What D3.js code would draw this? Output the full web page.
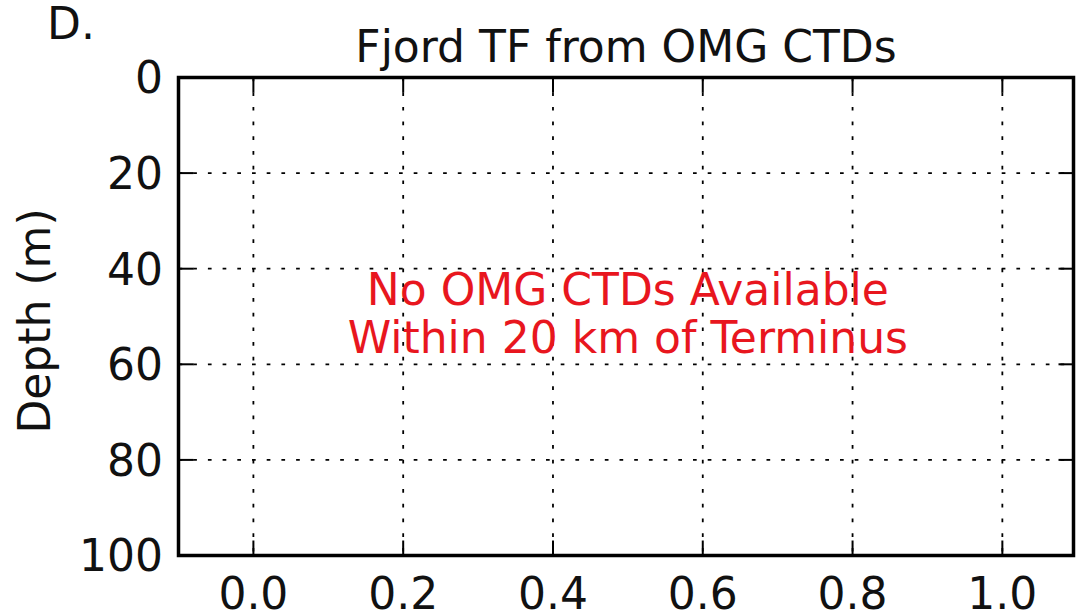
<!DOCTYPE html>
<html lang="en">
<head>
    <meta charset="UTF-8">
    <script src="https://d3js.org/d3.v7.min.js"></script>
    <style>
        body {
            margin: 0;
            padding: 0;
            background: #ffffff;
            overflow: hidden;
        }
        text {
            font-family: 'DejaVu Sans', sans-serif;
        }
    </style>
</head>
<body>
    <div id="chart"></div>
    <script>
        // Data
        const xTicks = [0.0, 0.2, 0.4, 0.6, 0.8, 1.0];
        const yTicks = [0, 20, 40, 60, 80, 100];
        const xDomain = [-0.1, 1.095];
        const yDomain = [0, 100];
        const panelLabel = "D.";
        const title = "Fjord TF from OMG CTDs";
        const yLabel = "Depth (m)";
        const messageLines = ["No OMG CTDs Available", "Within 20 km of Terminus"];
        const messagePos = [0.5, 50];

        // Layout
        const width = 1076, height = 614;
        const margin = {left: 178.5, right: 2.5, top: 77.5, bottom: 58.5};
        const fontSize = 44;

        const svg = d3.select("#chart").append("svg")
            .attr("width", width)
            .attr("height", height);

        const x = d3.scaleLinear()
            .domain(xDomain)
            .range([margin.left, width - margin.right]);

        const y = d3.scaleLinear()
            .domain(yDomain)
            .range([margin.top, height - margin.bottom]);

        // Grid (dotted)
        const grid = svg.append("g");
        grid.selectAll(".vgrid")
            .data(xTicks)
            .enter().append("line")
            .attr("x1", d => x(d)).attr("x2", d => x(d))
            .attr("y1", y(yDomain[0])).attr("y2", y(yDomain[1]))
            .attr("stroke", "#000")
            .attr("stroke-width", 1.8)
            .attr("stroke-dasharray", "3.7 11");
        grid.selectAll(".hgrid")
            .data(yTicks.filter(d => d > yDomain[0] && d < yDomain[1]))
            .enter().append("line")
            .attr("x1", x(xDomain[0])).attr("x2", x(xDomain[1]))
            .attr("y1", d => y(d)).attr("y2", d => y(d))
            .attr("stroke", "#000")
            .attr("stroke-width", 1.8)
            .attr("stroke-dasharray", "3.7 11");

        // Ticks on all four sides, pointing inward
        const tickLen = 15;
        const ticks = svg.append("g")
            .attr("stroke", "#000")
            .attr("stroke-width", 2);
        xTicks.forEach(t => {
            ticks.append("line")
                .attr("x1", x(t)).attr("x2", x(t))
                .attr("y1", y(yDomain[1])).attr("y2", y(yDomain[1]) - tickLen);
            ticks.append("line")
                .attr("x1", x(t)).attr("x2", x(t))
                .attr("y1", y(yDomain[0])).attr("y2", y(yDomain[0]) + tickLen);
        });
        yTicks.forEach(t => {
            ticks.append("line")
                .attr("x1", x(xDomain[0])).attr("x2", x(xDomain[0]) + tickLen)
                .attr("y1", y(t)).attr("y2", y(t));
            ticks.append("line")
                .attr("x1", x(xDomain[1])).attr("x2", x(xDomain[1]) - tickLen)
                .attr("y1", y(t)).attr("y2", y(t));
        });

        // Frame
        svg.append("rect")
            .attr("x", x(xDomain[0]))
            .attr("y", y(yDomain[0]))
            .attr("width", x(xDomain[1]) - x(xDomain[0]))
            .attr("height", y(yDomain[1]) - y(yDomain[0]))
            .attr("fill", "none")
            .attr("stroke", "#000")
            .attr("stroke-width", 3.5);

        // Tick labels
        svg.append("g").selectAll("text")
            .data(xTicks)
            .enter().append("text")
            .attr("x", d => x(d))
            .attr("y", 609)
            .attr("text-anchor", "middle")
            .attr("font-size", fontSize)
            .attr("fill", "#111")
            .text(d => d.toFixed(1));

        svg.append("g").selectAll("text")
            .data(yTicks)
            .enter().append("text")
            .attr("x", 163)
            .attr("y", d => y(d))
            .attr("dy", "0.36em")
            .attr("text-anchor", "end")
            .attr("font-size", fontSize)
            .attr("fill", "#111")
            .text(d => d);

        // Y label
        svg.append("text")
            .attr("transform", "translate(50,321) rotate(-90)")
            .attr("text-anchor", "middle")
            .attr("font-size", fontSize)
            .attr("fill", "#111")
            .text(yLabel);

        // Title and panel label
        svg.append("text")
            .attr("x", (x(xDomain[0]) + x(xDomain[1])) / 2)
            .attr("y", 62)
            .attr("text-anchor", "middle")
            .attr("font-size", fontSize)
            .attr("fill", "#111")
            .text(title);

        svg.append("text")
            .attr("x", 47)
            .attr("y", 39)
            .attr("font-size", fontSize)
            .attr("fill", "#111")
            .text(panelLabel);

        // Message
        svg.append("g").selectAll("text")
            .data(messageLines)
            .enter().append("text")
            .attr("x", x(messagePos[0]))
            .attr("y", (d, i) => y(messagePos[1]) - 12 + i * 48)
            .attr("text-anchor", "middle")
            .attr("font-size", fontSize)
            .attr("fill", "#e8161e")
            .text(d => d);
    </script>
</body>
</html>
